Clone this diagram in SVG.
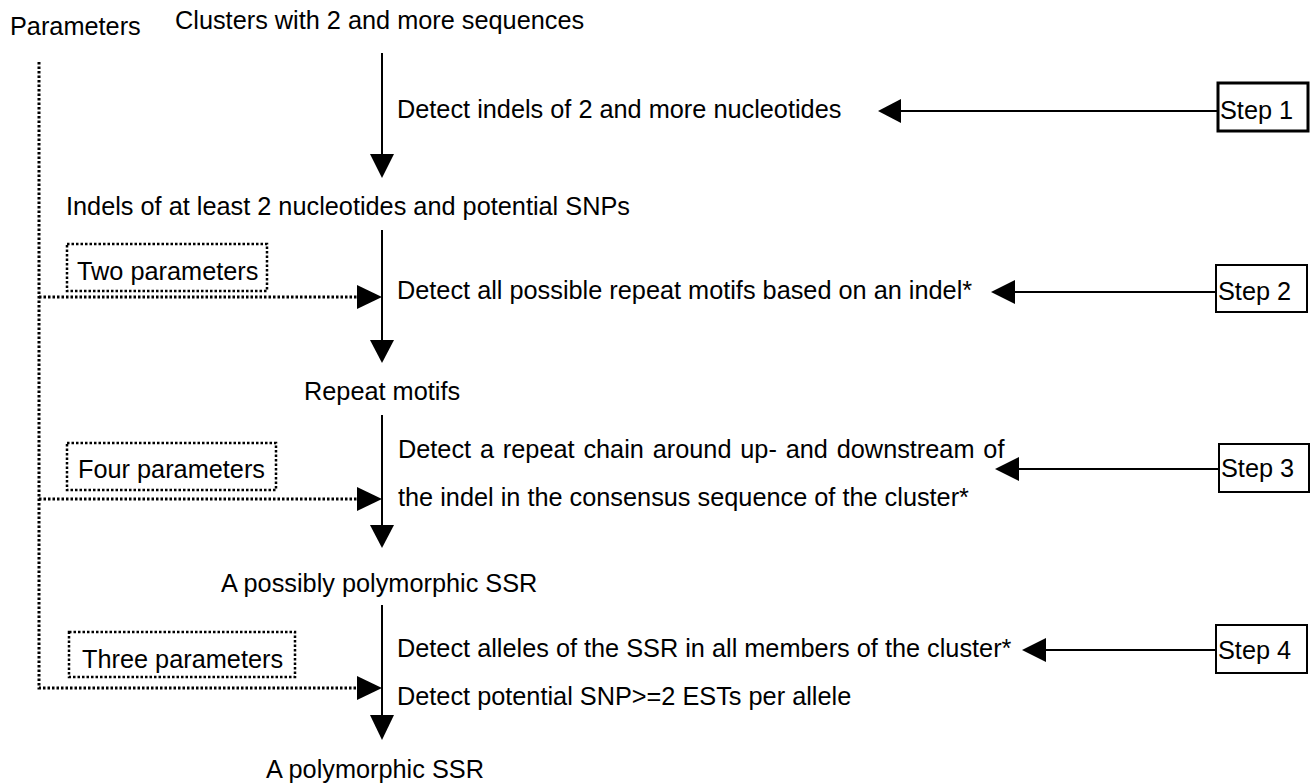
<svg xmlns="http://www.w3.org/2000/svg" width="1311" height="784" viewBox="0 0 1311 784">
<style>
text{font-family:"Liberation Sans",Arial,Helvetica,sans-serif;font-size:25.3px;fill:#000}
.ln{stroke:#000;stroke-width:2;fill:none}
.dot{stroke:#000;stroke-width:3;stroke-dasharray:2.5 2;fill:none}
.dbox{stroke:#000;stroke-width:2.5;stroke-dasharray:2.5 2;fill:none}
.box{stroke:#000;stroke-width:2;fill:#fff}
.hd{fill:#000}
</style>
<rect width="1311" height="784" fill="#fff"/>
<g id="connectors">
<!-- main vertical arrows -->
<line class="ln" x1="382" y1="53" x2="382" y2="156"/>
<polygon class="hd" points="370,154 394,154 382,178"/>
<line class="ln" x1="382" y1="230" x2="382" y2="342"/>
<polygon class="hd" points="370,340 394,340 382,363"/>
<line class="ln" x1="382" y1="415" x2="382" y2="527"/>
<polygon class="hd" points="370,525 394,525 382,548"/>
<line class="ln" x1="382" y1="605" x2="382" y2="717"/>
<polygon class="hd" points="370,715 394,715 382,740"/>
<!-- parameter dotted lines -->
<polyline class="dot" points="39,62 39,688 357,688"/>
<line class="dot" x1="39" y1="297" x2="357" y2="297"/>
<line class="dot" x1="39" y1="499" x2="357" y2="499"/>
<polygon class="hd" points="357,285 357,309 382,297"/>
<polygon class="hd" points="357,487 357,511 382,499"/>
<polygon class="hd" points="357,676 357,700 382,688"/>
<!-- step arrows -->
<line class="ln" x1="1218" y1="111" x2="900" y2="111"/>
<polygon class="hd" points="901,99 901,123 878,111"/>
<line class="ln" x1="1216" y1="292" x2="1014" y2="292"/>
<polygon class="hd" points="1015,280 1015,304 991,292"/>
<line class="ln" x1="1219" y1="469" x2="1018" y2="469"/>
<polygon class="hd" points="1019,457 1019,481 995,469"/>
<line class="ln" x1="1216" y1="650" x2="1045" y2="650"/>
<polygon class="hd" points="1046,638 1046,662 1022,650"/>
</g>
<g id="parameters"><text x="10" y="35">Parameters</text></g>
<g id="clusters"><text x="175" y="29">Clusters with 2 and more sequences</text></g>
<g id="detect-indels"><text x="397" y="118">Detect indels of 2 and more nucleotides</text></g>
<g id="step1"><rect x="1218" y="83" width="90" height="48" fill="#fff" stroke="#000" stroke-width="3"/><text x="1220" y="119">Step 1</text></g>
<g id="indels"><text x="66" y="215">Indels of at least 2 nucleotides and potential SNPs</text></g>
<g id="two-params"><rect class="dbox" x="67" y="244" width="200" height="47"/><text x="77" y="280">Two parameters</text></g>
<g id="detect-motifs"><text x="397" y="299">Detect all possible repeat motifs based on an indel*</text></g>
<g id="step2"><rect class="box" x="1216" y="265" width="91" height="47"/><text x="1218" y="300">Step 2</text></g>
<g id="repeat-motifs"><text x="304" y="400">Repeat motifs</text></g>
<g id="four-params"><rect class="dbox" x="67" y="443" width="209" height="47"/><text x="78" y="478">Four parameters</text></g>
<g id="detect-chain"><text x="398" y="458" word-spacing="1.8">Detect a repeat chain around up- and downstream of</text><text x="398" y="506">the indel in the consensus sequence of the cluster*</text></g>
<g id="step3"><rect class="box" x="1219" y="444" width="90" height="48"/><text x="1221" y="477">Step 3</text></g>
<g id="possibly-ssr"><text x="221" y="592">A possibly polymorphic SSR</text></g>
<g id="three-params"><rect class="dbox" x="69" y="632" width="226" height="45"/><text x="82" y="668">Three parameters</text></g>
<g id="detect-alleles"><text x="397" y="657">Detect alleles of the SSR in all members of the cluster*</text><text x="397" y="705">Detect potential SNP&gt;=2 ESTs per allele</text></g>
<g id="step4"><rect class="box" x="1216" y="625" width="91" height="48"/><text x="1218" y="659">Step 4</text></g>
<g id="polymorphic-ssr"><text x="266" y="778">A polymorphic SSR</text></g>
</svg>
